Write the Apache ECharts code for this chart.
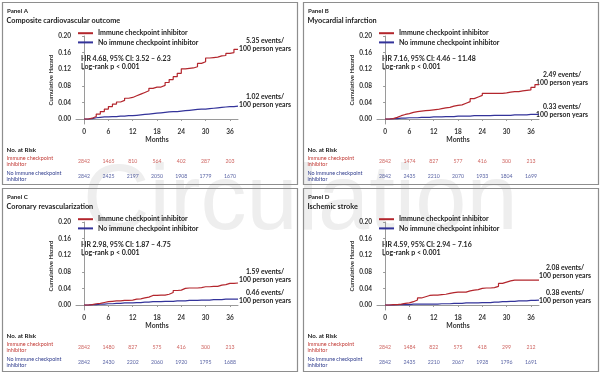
<!DOCTYPE html>
<html>
<head>
<meta charset="utf-8">
<script src="https://cdn.jsdelivr.net/npm/echarts@6/dist/echarts.min.js"></script>
<style>
  html, body { margin: 0; padding: 0; background: #fff; }
  #chart { width: 600px; height: 375px; }
</style>
</head>
<body>
<div id="chart"></div>
<script>
// data
const months = [0, 1, 2, 3, 4, 5, 6, 7, 8, 9, 10, 11, 12, 13, 14, 15, 16, 17, 18, 19,
  20, 21, 22, 23, 24, 25, 26, 27, 28, 29, 30, 31, 32, 33, 34, 35, 36, 37, 38];
const monthTicks = [0, 6, 12, 18, 24, 30, 36];
const hazardTicks = [0, 0.04, 0.08, 0.12, 0.16, 0.20];

const ICI = "Immune checkpoint inhibitor";
const NO_ICI = "No immune checkpoint inhibitor";

const hazardA_ici = [0, 0.002, 0.006, 0.012, 0.018, 0.024, 0.030, 0.036, 0.041, 0.045,
  0.050, 0.052, 0.056, 0.060, 0.064, 0.068, 0.074, 0.077, 0.077, 0.081,
  0.088, 0.095, 0.102, 0.110, 0.121, 0.122, 0.123, 0.126, 0.134, 0.138,
  0.147, 0.148, 0.149, 0.152, 0.153, 0.158, 0.160, 0.168, 0.168];
const hazardA_no = [0, 0.001, 0.003, 0.004, 0.005, 0.005, 0.006, 0.006, 0.007, 0.007,
  0.008, 0.008, 0.009, 0.010, 0.011, 0.012, 0.013, 0.014, 0.015, 0.016,
  0.017, 0.018, 0.018, 0.019, 0.020, 0.021, 0.022, 0.023, 0.024, 0.024,
  0.025, 0.026, 0.027, 0.028, 0.029, 0.030, 0.030, 0.031, 0.031];

const hazardB_ici = [0, 0.001, 0.004, 0.008, 0.011, 0.013, 0.016, 0.018, 0.019, 0.020,
  0.021, 0.022, 0.023, 0.025, 0.027, 0.028, 0.031, 0.033, 0.034, 0.038,
  0.042, 0.049, 0.053, 0.057, 0.062, 0.062, 0.062, 0.062, 0.062, 0.063,
  0.065, 0.066, 0.066, 0.068, 0.069, 0.070, 0.076, 0.083, 0.083];
const hazardB_no = [0, 0.001, 0.001, 0.002, 0.002, 0.003, 0.003, 0.003, 0.004, 0.004,
  0.004, 0.005, 0.005, 0.005, 0.006, 0.006, 0.006, 0.007, 0.007, 0.007,
  0.007, 0.008, 0.008, 0.008, 0.008, 0.008, 0.009, 0.009, 0.009, 0.009,
  0.009, 0.010, 0.010, 0.010, 0.010, 0.011, 0.011, 0.011, 0.011];

const hazardC_ici = [0, 0.001, 0.003, 0.004, 0.006, 0.008, 0.009, 0.010, 0.010, 0.011,
  0.011, 0.012, 0.014, 0.015, 0.017, 0.019, 0.023, 0.023, 0.024, 0.024,
  0.026, 0.030, 0.035, 0.036, 0.040, 0.041, 0.041, 0.041, 0.042, 0.044,
  0.044, 0.045, 0.045, 0.048, 0.049, 0.052, 0.052, 0.053, 0.053];
const hazardC_no = [0, 0.001, 0.001, 0.002, 0.002, 0.003, 0.003, 0.004, 0.004, 0.005,
  0.005, 0.005, 0.006, 0.006, 0.007, 0.007, 0.008, 0.008, 0.008, 0.009,
  0.009, 0.009, 0.010, 0.010, 0.010, 0.011, 0.011, 0.011, 0.012, 0.012,
  0.012, 0.013, 0.013, 0.013, 0.014, 0.014, 0.014, 0.014, 0.014];

const hazardD_ici = [0, 0.001, 0.001, 0.002, 0.004, 0.005, 0.008, 0.012, 0.017, 0.020,
  0.023, 0.024, 0.024, 0.025, 0.026, 0.028, 0.030, 0.031, 0.031, 0.031,
  0.034, 0.036, 0.037, 0.040, 0.041, 0.041, 0.042, 0.045, 0.052, 0.055,
  0.058, 0.060, 0.060, 0.060, 0.060, 0.060, 0.060, 0.060, 0.060];
const hazardD_no = [0, 0, 0.001, 0.001, 0.001, 0.001, 0.002, 0.002, 0.002, 0.002,
  0.002, 0.002, 0.002, 0.003, 0.003, 0.003, 0.004, 0.004, 0.004, 0.005,
  0.005, 0.005, 0.005, 0.006, 0.006, 0.006, 0.007, 0.007, 0.008, 0.008,
  0.009, 0.009, 0.010, 0.010, 0.010, 0.011, 0.011, 0.012, 0.012];

// numbers at risk, at months 0, 6, ... 36
const riskA_ici = [2842, 1465, 810, 564, 402, 287, 203];
const riskA_no = [2842, 2425, 2197, 2050, 1908, 1779, 1670];
const riskB_ici = [2842, 1474, 827, 577, 416, 300, 213];
const riskB_no = [2842, 2435, 2210, 2070, 1933, 1804, 1699];
const riskC_ici = [2842, 1480, 827, 575, 416, 300, 213];
const riskC_no = [2842, 2430, 2202, 2060, 1920, 1795, 1688];
const riskD_ici = [2842, 1484, 822, 575, 418, 299, 212];
const riskD_no = [2842, 2435, 2210, 2067, 1928, 1796, 1691];

const RED = "#b3262d";
const BLUE = "#33339a";
const RED_TXT = "#c23b36";
const BLUE_TXT = "#2d3a8c";
const FONT = "Lato";

const panels = [
  { x: 0, y: 0, label: "Panel A", title: "Composite cardiovascular outcome",
    hr: "HR 4.68, 95% CI: 3.52 \u2013 6.23", rates: ["5.35", "1.02"], rateX: 265, rateY: [41, 97],
    ici: hazardA_ici, no: hazardA_no, riskIci: riskA_ici, riskNo: riskA_no, h: 182 },
  { x: 301, y: 0, label: "Panel B", title: "Myocardial infarction",
    hr: "HR 7.16, 95% CI: 4.46 \u2013 11.48", rates: ["2.49", "0.33"], rateX: 261, rateY: [75, 107],
    ici: hazardB_ici, no: hazardB_no, riskIci: riskB_ici, riskNo: riskB_no, h: 182 },
  { x: 0, y: 186, label: "Panel C", title: "Coronary revascularization",
    hr: "HR 2.98, 95% CI: 1.87 \u2013 4.75", rates: ["1.59", "0.46"], rateX: 265, rateY: [86, 107],
    ici: hazardC_ici, no: hazardC_no, riskIci: riskC_ici, riskNo: riskC_no, h: 183 },
  { x: 301, y: 186, label: "Panel D", title: "Ischemic stroke",
    hr: "HR 4.59, 95% CI: 2.94 \u2013 7.16", rates: ["2.08", "0.38"], rateX: 264, rateY: [82, 107],
    ici: hazardD_ici, no: hazardD_no, riskIci: riskD_ici, riskNo: riskD_no, h: 183 }
];

const chart = echarts.init(document.getElementById("chart"), null, { renderer: "canvas" });

const grid = [], xAxis = [], yAxis = [], series = [], legend = [], graphic = [];

function txt(x, y, text, size, color, opts) {
  const o = opts || {};
  return {
    type: "text", x: x, y: y, silent: true,
    style: {
      text: text, fontSize: size, fontFamily: FONT,
      fontWeight: o.weight || "bold", fill: color,
      textAlign: o.align || "left", textVerticalAlign: "middle"
    }
  };
}

// faint journal watermark behind everything
graphic.push({
  type: "text", x: 83, y: 204, z: -10, silent: true,
  style: { text: "Circulation", fontSize: 92, fontFamily: "Liberation Sans",
    fill: "#eeeeee", textVerticalAlign: "middle" }
});

panels.forEach((p, i) => {
  const gi = i * 2;       // curve grid
  const ri = i * 2 + 1;   // numbers-at-risk grid

  grid.push({ left: p.x + 76, top: p.y + 36, width: 162, height: 88 });
  grid.push({ left: p.x + 76, top: p.y + 154, width: 162, height: 30 });

  xAxis.push({
    type: "value", gridIndex: gi, min: -2, max: 38,
    axisLine: { show: true, lineStyle: { color: "#9a9a9a", width: 1 } },
    axisTick: { show: true, customValues: monthTicks, length: 2, lineStyle: { color: "#9a9a9a" } },
    axisLabel: { customValues: monthTicks, fontSize: 6.5, fontWeight: "bold", color: "#333", margin: 4, fontFamily: FONT },
    splitLine: { show: false },
    name: "Months", nameLocation: "middle", nameGap: 12.5,
    nameTextStyle: { fontSize: 6.8, fontWeight: "bold", color: "#333", fontFamily: FONT }
  });
  xAxis.push({ type: "value", gridIndex: ri, min: -2, max: 38, show: false });

  yAxis.push({
    type: "value", gridIndex: gi, min: -0.012, max: 0.2,
    axisLine: { show: true, lineStyle: { color: "#9a9a9a", width: 1 } },
    axisTick: { show: true, customValues: hazardTicks, length: 2, lineStyle: { color: "#9a9a9a" } },
    axisLabel: { customValues: hazardTicks, formatter: v => v.toFixed(2), fontSize: 6.5,
      fontWeight: "bold", color: "#333", margin: 5, fontFamily: FONT },
    splitLine: { show: false },
    name: "Cumulative Hazard", nameLocation: "middle", nameGap: 21, nameRotate: 90,
    nameTextStyle: { fontSize: 6, fontWeight: "bold", color: "#333", fontFamily: FONT }
  });
  yAxis.push({ type: "category", gridIndex: ri, data: ["ici", "no"], inverse: true, show: false });

  series.push({
    name: ICI, type: "line", xAxisIndex: gi, yAxisIndex: gi, step: "end",
    symbol: "none", color: RED, lineStyle: { width: 1.2, color: RED }, z: 3,
    data: months.map((m, k) => [m, p.ici[k]])
  });
  series.push({
    name: NO_ICI, type: "line", xAxisIndex: gi, yAxisIndex: gi, step: "end",
    symbol: "none", color: BLUE, lineStyle: { width: 1.2, color: BLUE }, z: 2,
    data: months.map((m, k) => [m, p.no[k]])
  });

  [["ici", p.riskIci, RED_TXT], ["no", p.riskNo, BLUE_TXT]].forEach(([row, counts, c]) => {
    series.push({
      name: "risk-" + row + "-" + i, type: "scatter", xAxisIndex: ri, yAxisIndex: ri,
      symbolSize: 1, itemStyle: { color: "rgba(0,0,0,0)" }, silent: true,
      label: { show: true, position: "inside", formatter: d => d.value[2],
        fontSize: 5.2, color: c, fontFamily: FONT },
      data: monthTicks.map((m, k) => [m, row, counts[k]])
    });
  });

  legend.push({
    data: [ICI, NO_ICI], orient: "vertical", left: p.x + 78, top: p.y + 29.2,
    icon: "rect", itemWidth: 15, itemHeight: 2, itemGap: 1.2, itemTextGap: 4, padding: 0,
    selectedMode: false,
    textStyle: { fontSize: 7, lineHeight: 8, fontWeight: "bold", color: "#222", fontFamily: FONT }
  });

  // panel frame and texts
  graphic.push({
    type: "rect", silent: true,
    shape: { x: p.x + 2.5, y: p.y + 2.5, width: 295, height: p.h },
    style: { fill: "none", stroke: "#8e8e8e", lineWidth: 1.2 }
  });
  graphic.push(txt(p.x + 7, p.y + 11, p.label, 6.2, "#222"));
  graphic.push(txt(p.x + 6.5, p.y + 21, p.title, 7.3, "#222"));
  graphic.push(txt(p.x + 81, p.y + 58.7, p.hr, 7, "#222"));
  graphic.push(txt(p.x + 81, p.y + 67, "Log-rank p < 0.001", 7, "#222"));
  graphic.push(txt(p.x + p.rateX, p.y + p.rateY[0], p.rates[0] + " events/", 6.8, "#222", { align: "center" }));
  graphic.push(txt(p.x + p.rateX, p.y + p.rateY[0] + 8, "100 person years", 6.8, "#222", { align: "center" }));
  graphic.push(txt(p.x + p.rateX, p.y + p.rateY[1], p.rates[1] + " events/", 6.8, "#222", { align: "center" }));
  graphic.push(txt(p.x + p.rateX, p.y + p.rateY[1] + 8, "100 person years", 6.8, "#222", { align: "center" }));
  graphic.push(txt(p.x + 6.5, p.y + 150, "No. at Risk", 6.2, "#222"));
  graphic.push(txt(p.x + 6.5, p.y + 158, "Immune checkpoint", 5.4, RED_TXT, { weight: "normal" }));
  graphic.push(txt(p.x + 6.5, p.y + 164, "inhibitor", 5.4, RED_TXT, { weight: "normal" }));
  graphic.push(txt(p.x + 6.5, p.y + 173.3, "No immune checkpoint", 5.4, BLUE_TXT, { weight: "normal" }));
  graphic.push(txt(p.x + 6.5, p.y + 179.5, "inhibitor", 5.4, BLUE_TXT, { weight: "normal" }));
});

const option = {
  animation: false,
  backgroundColor: "#fff",
  textStyle: { fontFamily: FONT },
  grid: grid,
  xAxis: xAxis,
  yAxis: yAxis,
  legend: legend,
  series: series,
  graphic: graphic
};

chart.setOption(option);
window.addEventListener("resize", chart.resize);
</script>
</body>
</html>
